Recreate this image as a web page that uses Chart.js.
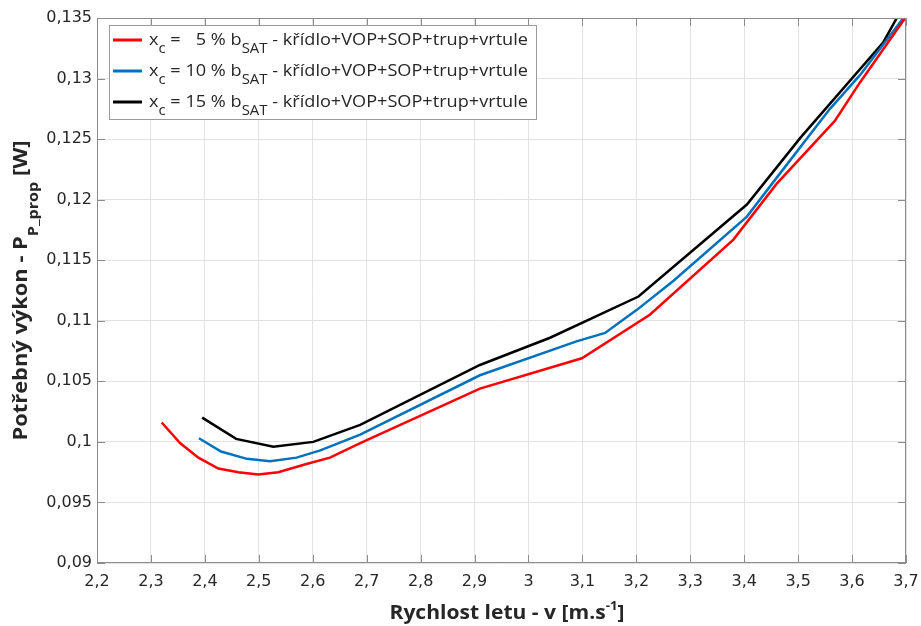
<!DOCTYPE html>
<html>
<head>
<meta charset="utf-8">
<script src="https://cdn.jsdelivr.net/npm/chart.js@4.4.1/dist/chart.umd.min.js"></script>
<style>
  html, body { margin: 0; padding: 0; background: #fff; }
</style>
</head>
<body>
<canvas id="chart" width="921" height="626"></canvas>
<script>
// x_c = 5 % b_SAT
const speed5 = [2.32, 2.354, 2.388, 2.425, 2.462, 2.499, 2.536, 2.59, 2.632, 2.688, 2.91, 3.099, 3.225, 3.38, 3.46, 3.568, 3.615, 3.70];
const power5 = [0.1016, 0.0999, 0.0987, 0.0978, 0.0975, 0.0973, 0.0975, 0.0982, 0.0987, 0.0999, 0.1044, 0.1069, 0.1105, 0.1167, 0.1213, 0.1265, 0.1297, 0.1351];
// x_c = 10 % b_SAT
const speed10 = [2.389, 2.43, 2.478, 2.521, 2.57, 2.614, 2.688, 2.91, 3.089, 3.142, 3.201, 3.269, 3.405, 3.46, 3.559, 3.615, 3.695];
const power10 = [0.1003, 0.0992, 0.0986, 0.0984, 0.0987, 0.0993, 0.1006, 0.1055, 0.1083, 0.1090, 0.1109, 0.1133, 0.1186, 0.1218, 0.1275, 0.1303, 0.1350];
// x_c = 15 % b_SAT
const speed15 = [2.395, 2.458, 2.527, 2.601, 2.688, 2.91, 3.04, 3.204, 3.405, 3.504, 3.658, 3.683];
const power15 = [0.1020, 0.10025, 0.0996, 0.1000, 0.1014, 0.10635, 0.1086, 0.1120, 0.1196, 0.1251, 0.1330, 0.1350];

const xTickLabels = ['2,2', '2,3', '2,4', '2,5', '2,6', '2,7', '2,8', '2,9', '3', '3,1', '3,2', '3,3', '3,4', '3,5', '3,6', '3,7'];
const yTickLabels = ['0,09', '0,095', '0,1', '0,105', '0,11', '0,115', '0,12', '0,125', '0,13', '0,135'];
const legendPercent = ['\u20075', '10', '15'];
const legendSuffix = ' - křídlo+VOP+SOP+trup+vrtule';
const colors = ['#ff0000', '#0072bd', '#000000'];

const num = s => parseFloat(s.replace(',', '.'));
const pts = (xs, ys) => xs.map((v, i) => ({ x: v, y: ys[i] }));

const TICK_FONT = '16px "DejaVu Sans"';
const TEXT = '#262626';

function richWidth(ctx, parts) {
  let w = 0;
  parts.forEach(p => { ctx.font = p.font; w += ctx.measureText(p.t).width; });
  return w;
}

// draws a run of text pieces (with sub/superscripts) squeezed to a given width
function drawRich(ctx, parts, x, y, width) {
  const nat = richWidth(ctx, parts);
  const sx = width ? width / nat : 1;
  ctx.save();
  ctx.translate(x, y);
  ctx.scale(sx, 1);
  let cx = 0;
  parts.forEach(p => {
    ctx.font = p.font;
    ctx.fillText(p.t, cx, p.dy || 0);
    cx += ctx.measureText(p.t).width;
  });
  ctx.restore();
}

const decorations = {
  id: 'decorations',
  afterDraw(chart) {
    const { ctx, chartArea: a, scales: { x, y } } = chart;
    ctx.save();

    // box + inner ticks
    ctx.strokeStyle = '#8c8c8c';
    ctx.lineWidth = 1;
    ctx.strokeRect(a.left + 0.5, a.top + 0.5, a.right - a.left - 1, a.bottom - a.top - 1);
    ctx.beginPath();
    xTickLabels.forEach(l => {
      const px = Math.round(x.getPixelForValue(num(l))) + 0.5;
      ctx.moveTo(px, a.bottom); ctx.lineTo(px, a.bottom - 8);
      ctx.moveTo(px, a.top); ctx.lineTo(px, a.top + 8);
    });
    yTickLabels.forEach(l => {
      const py = Math.round(y.getPixelForValue(num(l))) + 0.5;
      ctx.moveTo(a.left, py); ctx.lineTo(a.left + 8, py);
      ctx.moveTo(a.right, py); ctx.lineTo(a.right - 8, py);
    });
    ctx.stroke();

    // tick labels
    ctx.fillStyle = TEXT;
    ctx.font = TICK_FONT;
    ctx.textAlign = 'center';
    ctx.textBaseline = 'alphabetic';
    xTickLabels.forEach(l => ctx.fillText(l, x.getPixelForValue(num(l)), a.bottom + 23));
    ctx.textAlign = 'right';
    ctx.textBaseline = 'middle';
    yTickLabels.forEach(l => ctx.fillText(l, a.left - 5, y.getPixelForValue(num(l))));

    // axis titles
    ctx.textAlign = 'left';
    ctx.textBaseline = 'alphabetic';
    const B = 'bold 19px "Open Sans"';
    const xTitle = [
      { t: 'Rychlost letu - v [m.s', font: B },
      { t: '-1', font: 'bold 12px "Open Sans"', dy: -9 },
      { t: ']', font: B }
    ];
    drawRich(ctx, xTitle, 507 - 235 / 2, 619, 235);

    const yTitle = [
      { t: 'Potřebný výkon - P', font: B },
      { t: 'P_prop', font: 'bold 14px "Open Sans"', dy: 11 },
      { t: ' [W]', font: B }
    ];
    ctx.save();
    ctx.translate(27, (a.top + a.bottom) / 2);
    ctx.rotate(-Math.PI / 2);
    drawRich(ctx, yTitle, -150, 0, 300);
    ctx.restore();

    // legend
    ctx.fillStyle = '#fff';
    ctx.fillRect(109, 25, 427, 94);
    ctx.strokeStyle = '#9a9a9a';
    ctx.strokeRect(109.5, 25.5, 427, 94);
    const R = '17px "Open Sans"';
    const S = '14px "Open Sans"';
    legendPercent.forEach((p, i) => {
      const ly = 40 + i * 31;
      ctx.strokeStyle = colors[i];
      ctx.lineWidth = 3;
      ctx.beginPath();
      ctx.moveTo(113, ly); ctx.lineTo(142, ly);
      ctx.stroke();
      ctx.fillStyle = TEXT;
      drawRich(ctx, [
        { t: 'x', font: R },
        { t: 'c', font: S, dy: 8 },
        { t: ' = ' + p + ' % b', font: R },
        { t: 'SAT', font: S, dy: 8 },
        { t: legendSuffix, font: R }
      ], 149, ly + 5, 379);
    });

    ctx.restore();
  }
};

const grid = { color: '#e2e2e2', drawTicks: false, lineWidth: 1 };

new Chart(document.getElementById('chart'), {
  type: 'line',
  data: {
    datasets: [
      { label: '5 %', data: pts(speed5, power5), borderColor: colors[0] },
      { label: '10 %', data: pts(speed10, power10), borderColor: colors[1] },
      { label: '15 %', data: pts(speed15, power15), borderColor: colors[2] }
    ]
  },
  options: {
    responsive: false,
    animation: false,
    layout: { padding: { top: 18, right: 15, left: 0, bottom: 0 } },
    plugins: { legend: { display: false }, tooltip: { enabled: false } },
    elements: {
      point: { radius: 0 },
      line: { borderWidth: 2.5, tension: 0, fill: false }
    },
    scales: {
      x: {
        type: 'linear', min: 2.2, max: 3.7,
        ticks: { display: false, stepSize: 0.1 },
        grid: grid, border: { display: false },
        afterFit: s => { s.height = 63; }
      },
      y: {
        type: 'linear', min: 0.09, max: 0.135,
        ticks: { display: false, stepSize: 0.005 },
        grid: grid, border: { display: false },
        afterFit: s => { s.width = 97; }
      }
    }
  },
  plugins: [decorations]
});
</script>
</body>
</html>
